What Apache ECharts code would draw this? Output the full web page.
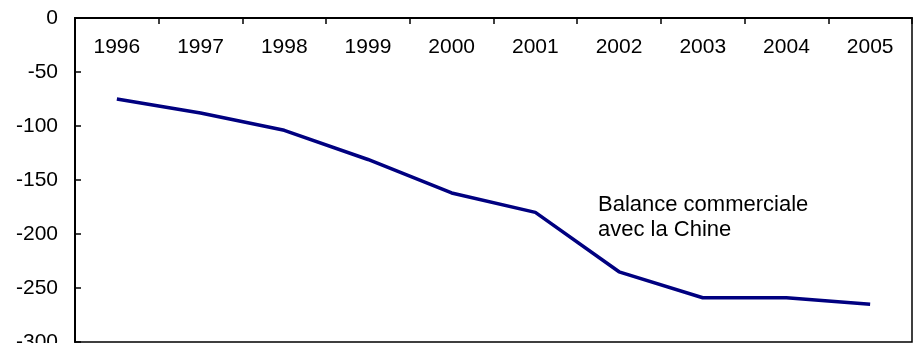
<!DOCTYPE html>
<html>
<head>
<meta charset="utf-8">
<script src="https://cdn.jsdelivr.net/npm/echarts@6/dist/echarts.min.js"></script>
<style>
  html, body { margin: 0; padding: 0; background: #fff; }
  #chart { width: 914px; height: 343px; }
</style>
</head>
<body>
<div id="chart"></div>
<script>
// années
var years = ['1996', '1997', '1998', '1999', '2000', '2001', '2002', '2003', '2004', '2005'];
// balance commerciale avec la Chine
var balance = [-75, -88, -104, -131, -162, -180, -235, -259, -259, -265];
var seriesName = 'Balance commerciale\navec la Chine';

var myChart = echarts.init(document.getElementById('chart'));

var option = {
  animation: false,
  textStyle: { fontFamily: 'Liberation Sans, Arial, sans-serif' },
  grid: {
    left: 75,
    top: 18,
    right: 2,
    bottom: 1,
    outerBoundsMode: 'none',
    containLabel: false,
    show: true,
    borderColor: '#000',
    borderWidth: 1.5
  },
  xAxis: {
    type: 'category',
    position: 'top',
    data: years,
    axisLine: { lineStyle: { color: '#000', width: 2 } },
    axisTick: { show: true, inside: true, length: 6, lineStyle: { color: '#000', width: 1.5 } },
    axisLabel: {
      inside: true,
      margin: 19,
      color: '#000',
      fontSize: 21
    },
    splitLine: { show: false }
  },
  yAxis: {
    type: 'value',
    min: -300,
    max: 0,
    interval: 50,
    axisLine: { show: true, lineStyle: { color: '#000', width: 2 } },
    axisTick: { show: true, inside: true, length: 6, lineStyle: { color: '#000', width: 1.5 } },
    axisLabel: { color: '#000', fontSize: 21, margin: 17 },
    splitLine: { show: false }
  },
  graphic: [{
    type: 'text',
    left: 598,
    top: 192,
    style: {
      text: seriesName,
      fontSize: 22,
      lineHeight: 25,
      fill: '#000',
      fontFamily: 'Liberation Sans, Arial, sans-serif'
    }
  }],
  series: [{
    name: 'Balance commerciale avec la Chine',
    type: 'line',
    data: balance,
    symbol: 'none',
    lineStyle: { color: '#000080', width: 3.5 }
  }]
};

myChart.setOption(option);
</script>
</body>
</html>
